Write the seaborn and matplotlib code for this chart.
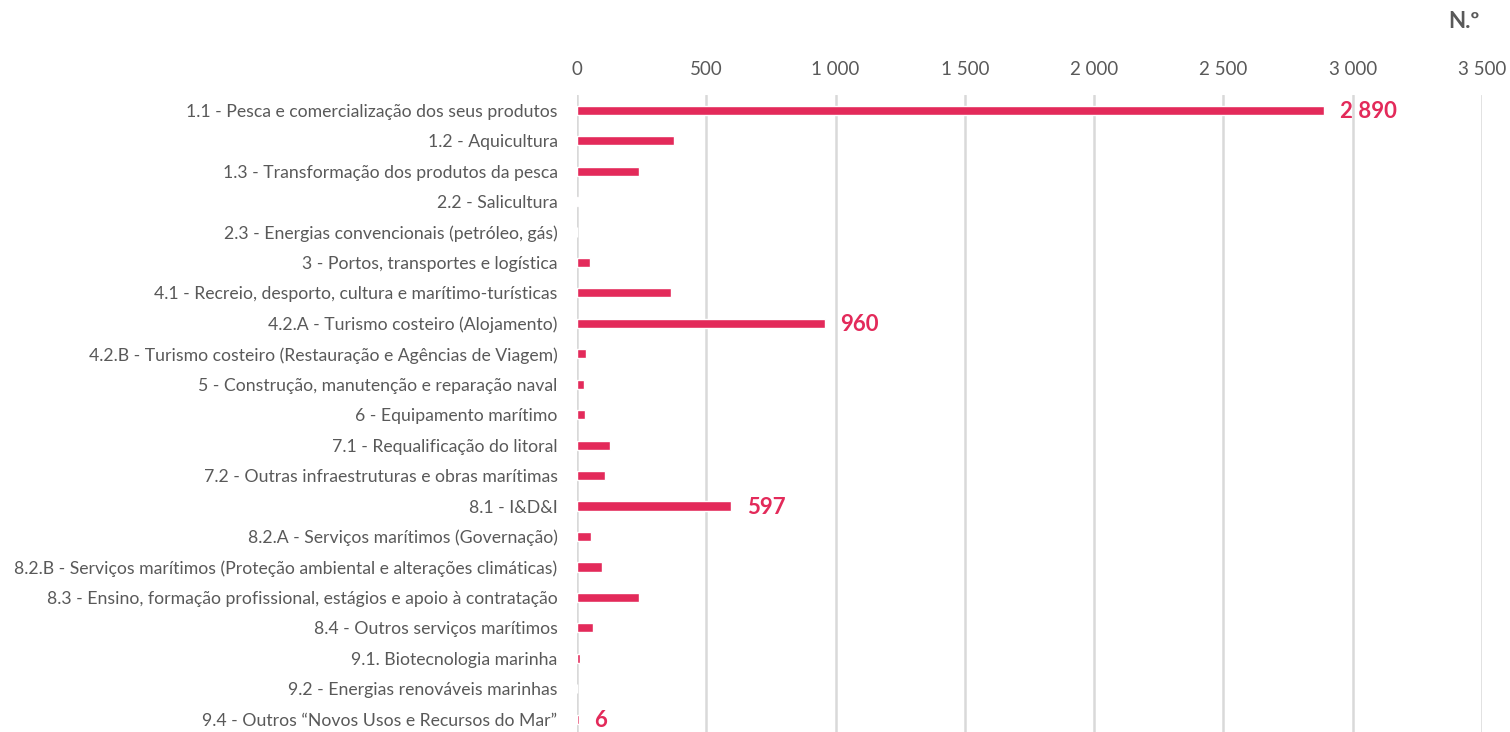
import matplotlib
matplotlib.use("Agg")
import matplotlib.pyplot as plt
import matplotlib.ticker as mticker
import seaborn as sns
import pandas as pd

# Data
categories = [
    "1.1 - Pesca e comercialização dos seus produtos",
    "1.2 - Aquicultura",
    "1.3 - Transformação dos produtos da pesca",
    "2.2 - Salicultura",
    "2.3 - Energias convencionais (petróleo, gás)",
    "3 - Portos, transportes e logística",
    "4.1 - Recreio, desporto, cultura e marítimo-turísticas",
    "4.2.A - Turismo costeiro (Alojamento)",
    "4.2.B - Turismo costeiro (Restauração e Agências de Viagem)",
    "5 - Construção, manutenção e reparação naval",
    "6 - Equipamento marítimo",
    "7.1 - Requalificação do litoral",
    "7.2 - Outras infraestruturas e obras marítimas",
    "8.1 - I&D&I",
    "8.2.A - Serviços marítimos (Governação)",
    "8.2.B - Serviços marítimos (Proteção ambiental e alterações climáticas)",
    "8.3 - Ensino, formação profissional, estágios e apoio à contratação",
    "8.4 - Outros serviços marítimos",
    "9.1. Biotecnologia marinha",
    "9.2 - Energias renováveis marinhas",
    "9.4 - Outros “Novos Usos e Recursos do Mar”",
]
values = [2890, 376, 241, 2, 0, 51, 363, 960, 36, 28, 32, 126, 108, 597, 53, 98, 239, 62, 10, 1, 6]
labelled = ["1.1 - Pesca e comercialização dos seus produtos",
            "4.2.A - Turismo costeiro (Alojamento)",
            "8.1 - I&D&I",
            "9.4 - Outros “Novos Usos e Recursos do Mar”"]
x_ticks = [0, 500, 1000, 1500, 2000, 2500, 3000, 3500]

df = pd.DataFrame({"categoria": categories, "valor": values})

sns.set_theme(style="white")
plt.rcParams["font.family"] = ["Lato", "DejaVu Sans"]

bar_color = "#E32A5A"
text_gray = "#595959"

fig = plt.figure(figsize=(15.1, 7.32), dpi=100)
ax = fig.add_axes([577 / 1510, 0, (1482 - 577) / 1510, (732 - 95) / 732])

sns.barplot(data=df, x="valor", y="categoria", orient="h", color=bar_color,
            width=0.3, saturation=1, ax=ax)

ax.set_xlim(0, 3500)
ax.set_ylim(20.42, -0.5)
ax.xaxis.tick_top()
ax.set_xticks(x_ticks)
ax.xaxis.set_major_formatter(mticker.FuncFormatter(lambda v, p: f"{int(v):,}".replace(",", " ")))
ax.grid(axis="x", color="#D9D9D9", linewidth=1.8)
ax.set_axisbelow(True)
for s in ax.spines.values():
    s.set_visible(False)
ax.tick_params(axis="x", length=0, pad=12, labelsize=13.5, labelcolor=text_gray)
ax.tick_params(axis="y", length=0, pad=14, labelsize=12.7, labelcolor=text_gray)
ax.set_xlabel("")
ax.set_ylabel("")

for i, (cat, val) in enumerate(zip(categories, values)):
    if cat in labelled:
        ax.annotate(f"{val:,}".replace(",", " "), xy=(val, i), xytext=(11, -1),
                    textcoords="offset points", va="center", ha="left",
                    color=bar_color, fontsize=16, fontweight="bold")

fig.text(1480 / 1510, 1 - 22 / 732, "N.º", ha="right", va="center",
         fontsize=16, fontweight="bold", color=text_gray)

fig.savefig("out.png", dpi=100)
